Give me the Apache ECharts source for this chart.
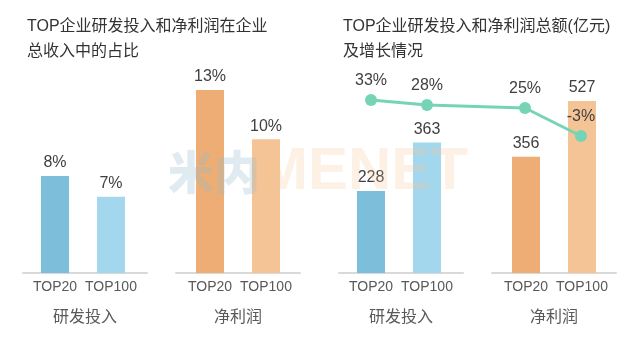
<!DOCTYPE html>
<html>
<head>
<meta charset="utf-8">
<script src="https://cdn.jsdelivr.net/npm/echarts@6/dist/echarts.min.js"></script>
<style>html,body{margin:0;padding:0;background:#fff}#c{width:640px;height:342px}</style>
</head>
<body>
<div id="c"></div>
<script>
// ---- data ----
const titles = ['TOP企业研发投入和净利润在企业\n总收入中的占比', 'TOP企业研发投入和净利润总额(亿元)\n及增长情况'];
const barCats = ['TOP20', 'TOP100'];
const groupNames = ['研发投入', '净利润'];
const pctRD = [8.4, 6.6];      // % of revenue, R&D
const pctNP = [13.0, 9.5];     // % of revenue, net profit
const amtRD = [228, 363];      // 亿元, R&D
const amtNP = [356, 527];      // 亿元, net profit
const growth = [33, 28, 25, -3]; // growth %, TOP20/TOP100 R&D, TOP20/TOP100 net profit
const watermark = ['米内', 'MENET'];

// ---- layout / style ----
const FONT = '"Liberation Sans", Arial, "Noto Sans CJK SC", sans-serif';
const colorsRD = ['#7dbedb', '#a3d7ee'];
const colorsNP = ['#edad74', '#f5c496'];
const lineColor = '#76d4b6';
const TOP = 40, BOTTOM = 69;
const groups = [
  { axis: [23, 147], barLeft: 27, max: 20.17, vals: pctRD, colors: colorsRD, name: groupNames[0], pct: true },
  { axis: [176, 300], barLeft: 182, max: 16.55, vals: pctNP, colors: colorsNP, name: groupNames[1], pct: true },
  { axis: [339, 463], barLeft: 343, max: 648, vals: amtRD, colors: colorsRD, name: groupNames[0], pct: false },
  { axis: [492, 616], barLeft: 498, max: 714, vals: amtNP, colors: colorsNP, name: groupNames[1], pct: false }
];
const BAR_GRID_W = 112;
const lineGrid = { left: 364, width: 224, slots: 16, idx: [0, 4, 11, 15], min: -140, max: 93 };

const grid = [], xAxis = [], yAxis = [], series = [];
groups.forEach((g, i) => {
  grid.push({ left: g.barLeft, width: BAR_GRID_W, top: TOP, bottom: BOTTOM });
  xAxis.push({
    gridIndex: i, type: 'category', data: barCats,
    axisLine: { show: false }, axisTick: { show: false },
    axisLabel: { color: '#595959', fontSize: 14, fontFamily: FONT, margin: 7, interval: 0 }
  });
  yAxis.push({ gridIndex: i, type: 'value', min: 0, max: g.max, show: false, splitLine: { show: false } });
  series.push({
    type: 'bar', xAxisIndex: i, yAxisIndex: i, barWidth: 28,
    data: g.vals.map((v, k) => ({ value: v, itemStyle: { color: g.colors[k] } })),
    label: {
      show: true, position: 'top', distance: 5, color: '#404040', fontSize: 16, fontFamily: FONT,
      formatter: p => g.pct ? Math.round(p.value) + '%' : String(p.value)
    },
    silent: true
  });
});
groups.forEach((g, i) => {
  const gi = grid.length;
  grid.push({ left: g.axis[0], width: g.axis[1] - g.axis[0], top: TOP, bottom: BOTTOM });
  xAxis.push({
    gridIndex: gi, type: 'category', data: [''],
    axisLine: { show: true, lineStyle: { color: '#d9d9d9', width: 2 } },
    axisTick: { show: false }, axisLabel: { show: false },
    name: g.name, nameLocation: 'middle', nameGap: 37,
    nameTextStyle: { color: '#595959', fontSize: 16, fontFamily: FONT }
  });
  yAxis.push({ gridIndex: gi, type: 'value', show: false, splitLine: { show: false } });
});
{
  const gi = grid.length;
  grid.push({ left: lineGrid.left, width: lineGrid.width, top: TOP, bottom: BOTTOM });
  const cats = Array.from({ length: lineGrid.slots }, (_, k) => 's' + k);
  xAxis.push({ gridIndex: gi, type: 'category', data: cats, show: false });
  yAxis.push({ gridIndex: gi, type: 'value', min: lineGrid.min, max: lineGrid.max, show: false, splitLine: { show: false } });
  const data = cats.map(() => null);
  growth.forEach((v, k) => { data[lineGrid.idx[k]] = v; });
  series.push({
    type: 'line', xAxisIndex: gi, yAxisIndex: gi, data, connectNulls: true,
    symbol: 'circle', symbolSize: 12, showAllSymbol: true,
    lineStyle: { color: lineColor, width: 3 },
    itemStyle: { color: lineColor },
    label: { show: true, position: 'top', distance: 5, color: '#404040', fontSize: 16, fontFamily: FONT, formatter: p => p.value + '%' },
    labelLayout: { hideOverlap: false },
    z: 5, silent: true
  });
}

const chart = echarts.init(document.getElementById('c'), null, { renderer: 'canvas' });
chart.setOption({
  animation: false,
  backgroundColor: '#fff',
  title: [
    { text: titles[0], left: 27, top: 14, padding: 0, textStyle: { fontSize: 16, fontWeight: 'normal', color: '#333', lineHeight: 25, fontFamily: FONT } },
    { text: titles[1], left: 343, top: 14, padding: 0, textStyle: { fontSize: 16, fontWeight: 'normal', color: '#333', lineHeight: 25, fontFamily: FONT } }
  ],
  grid, xAxis, yAxis, series,
  graphic: [
    { type: 'text', left: 168, top: 149, z: 100, silent: true,
      style: { text: watermark[0], font: '900 46px "Noto Sans CJK SC"', fill: 'rgba(150,190,205,0.3)' } },
    { type: 'text', left: 258, top: 142, z: 100, silent: true,
      style: { text: watermark[1], font: 'bold 60px "Liberation Sans", Arial', fill: 'rgba(248,195,148,0.25)' } }
  ]
});
</script>
</body>
</html>
